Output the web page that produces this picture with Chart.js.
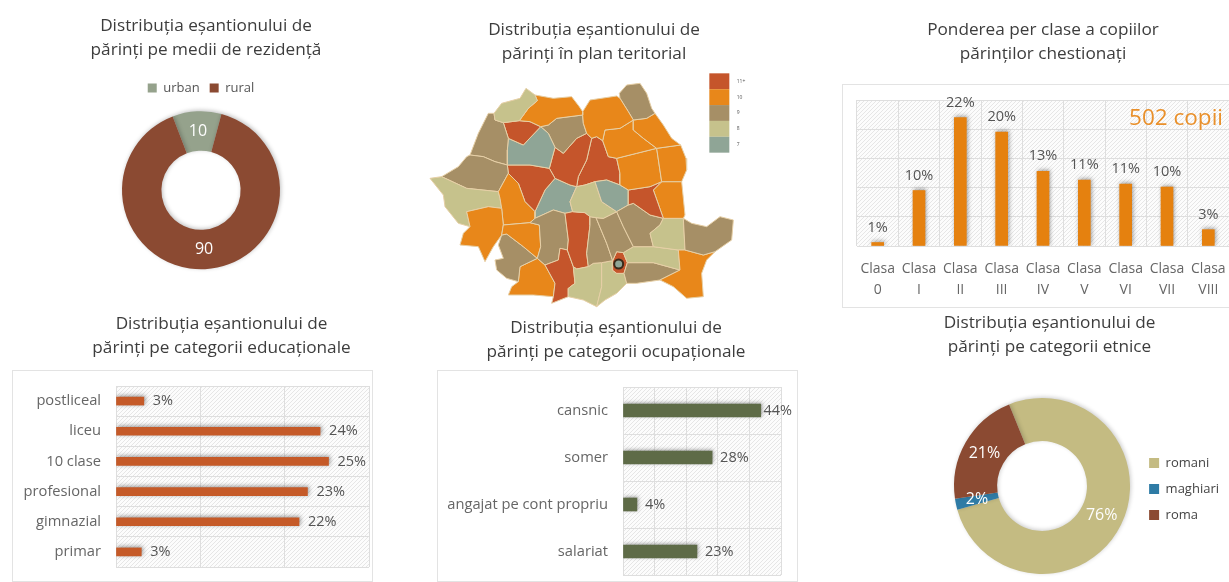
<!DOCTYPE html>
<html lang="ro"><head><meta charset="utf-8">
<script src="https://cdn.jsdelivr.net/npm/chart.js@4/dist/chart.umd.js"></script>
<style>
html,body{margin:0;padding:0;background:#fff;width:1229px;height:582px;overflow:hidden}
canvas{position:absolute}
.frame{position:absolute;border:1px solid #e3e3e3;box-sizing:border-box}
</style></head><body>
<div class="frame" style="left:842px;top:84px;width:388px;height:224px"></div>
<div class="frame" style="left:12px;top:370px;width:361px;height:212px"></div>
<div class="frame" style="left:437px;top:370px;width:361px;height:212px"></div>
<canvas id="c1" style="left:0;top:0" width="402" height="276"></canvas>
<canvas id="c2" style="left:420px;top:0" width="330" height="310"></canvas>
<canvas id="c3" style="left:841px;top:0" width="388" height="310"></canvas>
<canvas id="c4" style="left:0;top:305px" width="372" height="277"></canvas>
<canvas id="c5" style="left:430px;top:305px" width="367" height="277"></canvas>
<canvas id="c6" style="left:930px;top:305px" width="299" height="277"></canvas>
<script>
// ---- data ----
const residenceLabels = ['urban', 'rural'];
const residenceValues = [10, 90];
const gradeLabels = [['Clasa','0'],['Clasa','I'],['Clasa','II'],['Clasa','III'],['Clasa','IV'],['Clasa','V'],['Clasa','VI'],['Clasa','VII'],['Clasa','VIII']];
const gradeValues = [0.6, 9.5, 22, 19.5, 12.8, 11.3, 10.6, 10.1, 2.8];
const educationLabels = ['postliceal','liceu','10 clase','profesional','gimnazial','primar'];
const educationValues = [3.3, 24.2, 25.2, 22.7, 21.7, 3.0];
const occupationLabels = ['cansnic','somer','angajat pe cont propriu','salariat'];
const occupationValues = [43.6, 28.2, 4.4, 23.4];
const ethnicLabels = ['romani','maghiari','roma'];
const ethnicValues = [76, 2, 21];
const mapClassLabels = ['11+','10','9','8','7'];
// map geometry in map units: shared border corners, then county outlines
const mapCorners = {A:[222,130],Ap:[225,150],B:[352,92],Bm:[325,115],C:[298,152],D:[250,158],E:[488,135],F:[385,165],G:[362,170],H:[330,155],I:[310,225],J:[265,205],K:[262,285],L:[150,255],M:[385,190],N:[405,232],O:[388,295],P:[330,285],Q:[235,365],R:[265,310],S:[405,325],T:[345,425],U:[345,445],V:[330,458],W:[250,465],X:[245,415],Xp:[240,385],Y:[140,425],Yp:[205,410],Z:[150,470],AA:[245,495],AB:[358,465],AC:[362,530],AD:[352,565],AE:[300,590],AF:[295,635],AG:[375,585],AH:[405,640],AI:[435,430],AJ:[400,420],AK:[445,510],AL:[420,535],AM:[415,570],AN:[442,540],AO:[460,590],AP:[465,640],AQ:[445,655],AR:[445,680],AU:[510,465],AV:[500,550],AW:[505,590],AX:[470,597],BA:[450,345],BB:[470,350],BC:[450,395],BD:[458,425],BE:[495,345],BF:[525,335],BG:[545,395],BH:[590,425],BI:[550,445],BJ:[510,440],BK:[495,428],BL:[528,443],BM:[560,520],BN:[578,572],BO:[520,580],BP:[610,470],BQ:[640,530],BR:[610,548],BS:[590,545],CA:[640,400],CB:[690,435],CD:[690,490],CE:[700,530],CF:[600,345],CG:[625,360],CH:[625,405],CI:[690,350],CJ:[725,335],CK:[700,360],CL:[730,445],CM:[785,335],CN:[790,445],CO:[795,540],CP:[775,540],DA:[885,545],DB:[850,555],DC:[720,630],DD:[780,600],DE:[700,578],DF:[622,578],DG:[650,640],DH:[620,640],DI:[612,610],DJ:[590,610],DK:[577,600],DL:[545,650],DM:[545,578],EA:[600,85],EB:[625,125],EC:[640,150],ED:[600,175],EE:[555,180],EF:[530,200],EG:[500,190],EH:[705,130],EI:[680,145],EJ:[782,225],EK:[710,235],EL:[670,205],EM:[640,180],EN:[650,250],EO:[590,265],EP:[565,260],EQ:[600,310],FA:[515,205],FB:[548,212],FC:[475,320],FD:[500,270],FE:[430,250],FF:[470,205],
n1:[345,75],n2:[488,125],n3:[720,465],n4:[560,330],n5:[530,710],n6:[310,530],n7:[260,492],n8:[400,680],n9:[315,395],n10:[295,340],n11:[140,355],n12:[65,320],n13:[190,260],n14:[225,275],n15:[262,240],n16:[375,360],n17:[490,160],n18:[410,145]};
const countyOutlines = [
['A',[245,100],[300,85],[318,55],'n1','B','Bm','C','D','Ap'],
['C','Bm','B','n1',[400,85],[455,80],[478,110],'n2','E','n18','F','G','H'],
['E','n2',[510,90],[590,78],'EA','EB','EC','ED','EE','FB','EF','FA','EG','n17'],
['EA',[598,70],[620,45],[660,40],[680,70],[695,115],'EH','EI','EC','EB'],
['EC','EI','EH',[730,165],[755,205],'EJ','EK','EL','EM'],
['ED','EC','EM','EL','EK','EN','EO','EP','FB','EE'],
['EK','EJ',[798,265],[800,300],'CM','CJ'],
['EO','EN','EK','CJ','CI','CG','CF','EQ'],
['CG','CI','CJ','CK','CL','CB','CA','CH'],
['CK','CJ','CM',[790,385],[795,435],'CN','CL'],
['CN',[815,460],[860,470],[900,440],[940,450],[935,510],'DA','DB','CO'],
['CP','CO','DB','DA',[860,570],[845,610],[850,680],[800,685],[760,650],'DC','DD'],
['CD','n3','CL','CN','CO','CP','CE'],
['BH','CH','CA','CB','CL','n3','CD','CE','BQ','BP'],
['BF','n4','CF','CG','CH','BH','BG'],
['BC','BB','BE','BF','BG','BH','BI','BL','BJ','BK','BD'],
['BL','BI','BH','BP','BQ','BR','BS','BN','BM'],
['AU','BJ','BL','BM','BN','DM','BO','AW','AV'],
['BR','BQ','CE','CP','DD','DE','DF'],
['DF','DE','DD','DC','DG','DH','DI'],
['BN','BS','BR','DF','DI','DJ','DK'],
['DM','BN','DK','DJ','DI','DH',[590,670],[555,690],'n5','DL'],
['AP','AO','AX','AW','BO','DM','DL','n5',[490,690],'AR','AQ'],
['AI','BD','BK','BJ','AU','AV','AW','AX','AO','AN','AK'],
['AL','AN','AO','AP','AQ','AR',[395,700],'n8','AH','AG','AM'],
['U','AJ','AI','AK','AN','AL','AM','AG','AD','AC','AB','V'],
['AA','W','V','AB','AC','AD','n6','n7'],
['AA','n7','n6','AD','AE','AF',[260,625],[230,600],[225,570],[250,565],[235,525]],
['AE','AD','AG','AH','n8',[340,675],[265,675],[275,650],'AF'],
['Y','Yp','X','W','AA',[220,530],[195,575],[175,530],[120,525],[130,490],'Z'],
['R','n10','n9','T','U','V','W','X','Xp','Q'],
[[30,325],'n12','n11','Q','Xp','X','Yp','Y','Z',[115,460],[75,410],[70,375]],
['n12',[115,290],[140,260],'L','n13','n14','K','R','Q','n11'],
['A','Ap','D','J','n15','K','n14','n13','L',[175,190],[205,130]],
['D','C','H','G','I','J'],
['J','I','G','M','N','O','P','K','n15'],
['F','n18','E','n17','EG','FF','FE','N','M','G'],
['K','P','O','S','n16','T','n9','n10','R'],
['N','FE','FF','EG','FA','FD','FC','BB','BA','S','O'],
['FA','EF','FB','EP','EO','EQ','CF','n4','BF','BE','BB','FC','FD'],
['S','BA','BB','BC','BD','AI','AJ','U','T','n16']
];
const countyClass = [3,1,1,2,1,1,1,1,0,1, 2,1,3,2,4,3,2,2,3,2, 0,3,3,0,0,2,1,2,1,1, 1,3,2,2,0,4,2,0,0,0, 4];
const capitalPoint = [[596,582]];
const capitalClass = 4;

// ---- styles ----
const FONT = '"Open Sans", sans-serif';
const mapColors = ['#C5552B','#E8871A','#A68F66','#C6C28C','#8FA596'];
const GRID = '#dedede', TICK = '#666', TITLE = '#3d3d3d';
Chart.defaults.font.family = FONT;
Chart.defaults.animation = false;
Chart.defaults.responsive = false;
Chart.defaults.layout.autoPadding = false;
Chart.defaults.plugins.tooltip.enabled = false;
Chart.defaults.plugins.legend.display = false;

function hatch(ctx){
  const t = document.createElement('canvas'); t.width = t.height = 4;
  const g = t.getContext('2d');
  g.fillStyle = '#fcfcfc'; g.fillRect(0,0,4,4);
  g.strokeStyle = '#e6e6e6'; g.lineWidth = 1;
  g.beginPath(); g.moveTo(-1,5); g.lineTo(5,-1); g.stroke();
  return ctx.createPattern(t,'repeat');
}
const helpers = {
  id:'helpers',
  afterLayout(chart,_,o){
    if(o.titleShift && chart.titleBlock){ chart.titleBlock.left += o.titleShift; chart.titleBlock.right += o.titleShift; }
    if(o.legendShift && chart.legend){ chart.legend.top += o.legendShift; chart.legend.bottom += o.legendShift; }
  },
  beforeDraw(chart,_,o){
    if(o.hatch){ const a = chart.chartArea, c = chart.ctx; c.save(); c.fillStyle = hatch(c); c.fillRect(a.left,a.top,a.right-a.left,a.bottom-a.top); c.restore(); }
  },
  beforeDatasetsDraw(chart,_,o){
    chart.ctx.save();
    if(o.shadow){ chart.ctx.shadowColor = o.shadow; chart.ctx.shadowBlur = 4; chart.ctx.shadowOffsetX = 1; chart.ctx.shadowOffsetY = -1; }
  },
  afterDatasetsDraw(chart,_,o){
    const c = chart.ctx; c.restore();
    if(!o.values) return;
    const v = o.values, meta = chart.getDatasetMeta(0), data = chart.data.datasets[0].data;
    c.save(); c.font = `${v.size}px ${FONT}`; c.fillStyle = v.color; c.textBaseline = 'middle';
    meta.data.forEach((el,i)=>{
      const text = Math.round(data[i]) + (v.suffix||'');
      if(v.mode==='up'){ c.textAlign='center'; c.fillText(text, el.x, el.y - v.gap); }
      else if(v.mode==='right'){
        c.textAlign='left';
        const w = c.measureText(text).width;
        let x = el.x + v.gap;
        if(v.limit && x + w > chart.chartArea.right + v.limit) x = chart.chartArea.right + v.limit - w;
        c.fillText(text, x, el.y);
      } else {
        const p = el.getCenterPoint(); c.textAlign='center'; c.fillText(text, p.x, p.y);
      }
    });
    c.restore();
  },
  afterDraw(chart,_,o){
    const c = chart.ctx;
    if(o.note){
      c.save(); c.font = `${o.note.size}px ${FONT}`; c.fillStyle = o.note.color; c.textAlign='right'; c.textBaseline='alphabetic';
      c.fillText(o.note.text, chart.chartArea.right - 6, chart.chartArea.top + 25); c.restore();
    }
    if(o.mapKey){
      const x = chart.scales.x, y = chart.scales.y;
      c.save(); c.font = `5px ${FONT}`; c.textBaseline='middle'; c.textAlign='left';
      mapClassLabels.forEach((t,i)=>{
        const top = y.getPixelForValue(10 + i*47.6), bot = y.getPixelForValue(10 + (i+1)*47.6);
        c.fillStyle = mapColors[i];
        c.fillRect(x.getPixelForValue(868), top, x.getPixelForValue(928)-x.getPixelForValue(868), bot-top);
        c.fillStyle = '#555';
        c.fillText(t, x.getPixelForValue(950), (top+bot)/2);
      });
      c.restore();
    }
  }
};
const TS = 17.2, LH = 24;
const title = (text,top,bottom)=>({display:true,text,color:TITLE,font:{size:TS,weight:'normal',lineHeight:LH/TS},padding:{top,bottom}});
const noPad = a => { a.paddingLeft = a.paddingRight = a.paddingTop = a.paddingBottom = 0; };
const fixWidth = w => axis => { axis.width = w; noPad(axis); };
const fixHeight = h => axis => { axis.height = h; noPad(axis); };
const tickFont = (size,lh)=>({size,lineHeight:lh?lh/size:1.2});

// ---- 1. residence doughnut ----
new Chart('c1',{type:'doughnut',plugins:[helpers],
  data:{labels:residenceLabels,datasets:[{data:residenceValues,backgroundColor:['#95A28C','#8B4A32'],borderWidth:0,radius:79,cutout:43,rotation:-21}]},
  options:{plugins:{
    title:title(['Distribuția eșantionului de','părinți pe medii de rezidență'],14,9.5),
    legend:{display:true,position:'top',labels:{boxWidth:9,boxHeight:9,padding:10,color:'#555',font:{size:13}}},
    helpers:{titleShift:5,shadow:'rgba(0,0,0,.25)',values:{size:16,color:'#fdfdfd'}}
  }}});

// ---- 2. territorial map ----
const countySets = countyOutlines.map((s,i)=>{
  const pts = s.map(p=> typeof p==='string' ? mapCorners[p] : p);
  return {
    data:[...pts,pts[0]].map(p=>({x:p[0],y:p[1]})),
    showLine:true,fill:'shape',tension:0,pointRadius:0,borderWidth:1,borderColor:'#E6CFA6',backgroundColor:mapColors[countyClass[i]]
  };
});
countySets.push({order:-1,data:capitalPoint.map(p=>({x:p[0],y:p[1]})),showLine:false,pointRadius:4.5,pointBorderWidth:2,pointBorderColor:'#3a2a1a',pointBackgroundColor:mapColors[capitalClass]});
new Chart('c2',{type:'scatter',plugins:[helpers],
  data:{datasets:countySets},
  options:{scales:{x:{display:false,min:0,max:990},y:{display:false,min:0,max:720,reverse:true}},
    plugins:{title:title(['Distribuția eșantionului de','părinți în plan teritorial'],18,4),helpers:{titleShift:9,mapKey:true}}}});

// ---- 3. grades ----
new Chart('c3',{type:'bar',plugins:[helpers],
  data:{labels:gradeLabels,datasets:[{data:gradeValues,backgroundColor:'#E5810F',barThickness:12}]},
  options:{layout:{padding:{left:16}},
    scales:{
      x:{grid:{color:GRID,drawTicks:false},border:{color:GRID},afterFit:fixHeight(64),ticks:{padding:12.5,color:TICK,font:tickFont(14,21),maxRotation:0,autoSkip:false}},
      y:{min:0,max:25,afterFit:fixWidth(0),grid:{color:GRID,drawTicks:false},border:{display:false},ticks:{display:false,stepSize:5}}
    },
    plugins:{title:title(['Ponderea per clase a copiilor','părinților chestionați'],18,34),
      helpers:{hatch:true,shadow:'rgba(60,60,60,.5)',note:{text:'502 copii',size:22.5,color:'#E9902B'},values:{mode:'up',gap:15,size:14.5,color:'#555',suffix:'%'}}}}});

// ---- 4. education ----
new Chart('c4',{type:'bar',plugins:[helpers],
  data:{labels:educationLabels,datasets:[{data:educationValues,backgroundColor:'#C55A28',barThickness:8}]},
  options:{indexAxis:'y',layout:{padding:{right:3,bottom:15}},
    scales:{
      x:{min:0,max:30,afterFit:fixHeight(0),grid:{color:GRID,drawTicks:false},border:{display:false},ticks:{display:false,stepSize:10}},
      y:{afterFit:fixWidth(116),grid:{color:GRID,drawTicks:false},border:{color:GRID},ticks:{padding:15,color:TICK,font:tickFont(14.7)}}
    },
    plugins:{title:title(['Distribuția eșantionului de','părinți pe categorii educaționale'],7,26),
      helpers:{titleShift:37,hatch:true,shadow:'rgba(60,60,60,.55)',values:{mode:'right',gap:9,size:14.5,color:'#555',suffix:'%'}}}}});

// ---- 5. occupation ----
new Chart('c5',{type:'bar',plugins:[helpers],
  data:{labels:occupationLabels,datasets:[{data:occupationValues,backgroundColor:'#5E6B47',barThickness:13}]},
  options:{indexAxis:'y',layout:{padding:{right:16,bottom:7}},
    scales:{
      x:{min:0,max:50,afterFit:fixHeight(0),grid:{color:GRID,drawTicks:false},border:{display:false},ticks:{display:false,stepSize:10}},
      y:{afterFit:fixWidth(193),grid:{color:GRID,drawTicks:false},border:{color:GRID},ticks:{padding:15,color:TICK,font:tickFont(14.7)}}
    },
    plugins:{title:title(['Distribuția eșantionului de','părinți pe categorii ocupaționale'],11,23),
      helpers:{titleShift:10.5,hatch:true,shadow:'rgba(60,60,60,.5)',values:{mode:'right',gap:8,limit:11,size:14.5,color:'#555',suffix:'%'}}}}});

// ---- 6. ethnicity doughnut ----
new Chart('c6',{type:'doughnut',plugins:[helpers],
  data:{labels:ethnicLabels,datasets:[{data:ethnicValues,backgroundColor:['#C4BB82','#2E7BA5','#8B4A32'],borderWidth:0,radius:88,cutout:48,rotation:-22}]},
  options:{layout:{padding:{left:18}},plugins:{
    title:title(['Distribuția eșantionului de','părinți pe categorii etnice'],6,31),
    legend:{display:true,position:'right',fullSize:false,labels:{boxWidth:10,boxHeight:10,padding:13,color:'#444',font:{size:13}}},
    helpers:{titleShift:-39,legendShift:3,shadow:'rgba(0,0,0,.2)',values:{size:16,color:'#fdfdfd',suffix:'%'}}
  }}});
</script>
</body></html>
